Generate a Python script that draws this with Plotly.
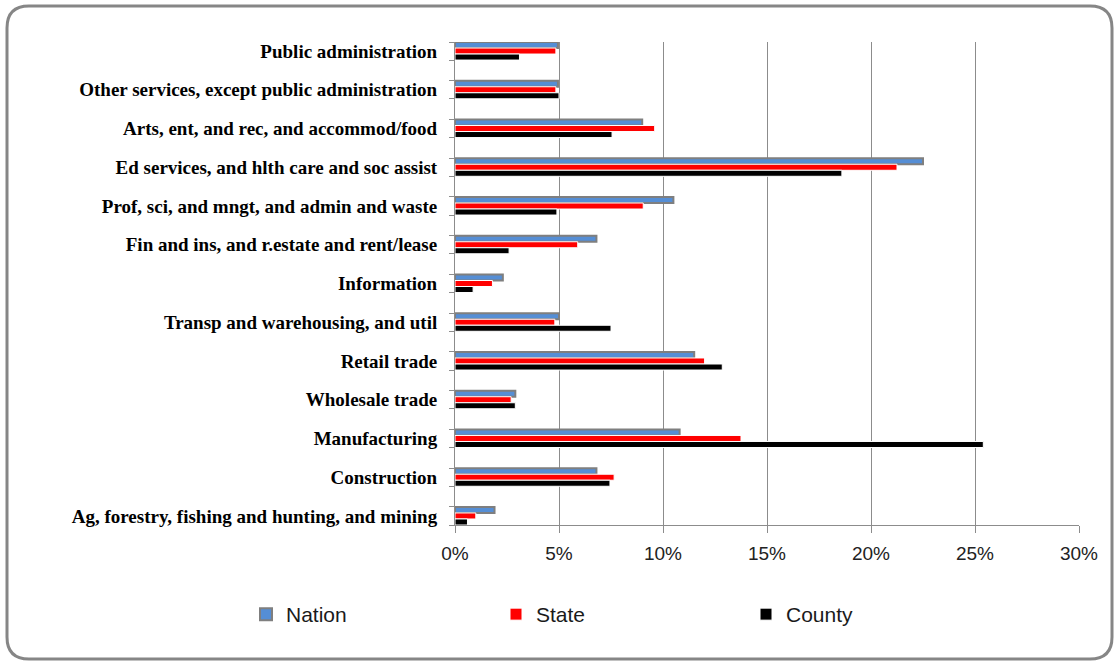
import plotly.graph_objects as go

categories = [
    "Public administration",
    "Other services, except public administration",
    "Arts, ent, and rec, and accommod/food",
    "Ed services, and hlth care and soc assist",
    "Prof, sci, and mngt, and admin and waste",
    "Fin and ins, and r.estate and rent/lease",
    "Information",
    "Transp and warehousing, and util",
    "Retail trade",
    "Wholesale trade",
    "Manufacturing",
    "Construction",
    "Ag, forestry, fishing and hunting, and mining",
]
nation = [0.0495, 0.0495, 0.090, 0.225, 0.105, 0.068, 0.023, 0.050, 0.115, 0.029, 0.108, 0.068, 0.019]
state = [0.0485, 0.0485, 0.096, 0.2125, 0.0905, 0.059, 0.018, 0.048, 0.120, 0.027, 0.1375, 0.0765, 0.010]
county = [0.031, 0.050, 0.0755, 0.186, 0.049, 0.026, 0.0087, 0.075, 0.1285, 0.029, 0.254, 0.0745, 0.006]
series_names = ["Nation", "State", "County"]
x_ticks = [0, 0.05, 0.10, 0.15, 0.20, 0.25, 0.30]

W, H = 1118, 665
L, R, T, B = 455, 1079, 42, 525
half = 0.233  # half of bar group height in category units

fig = go.Figure()
styles = [
    dict(color="#558ED5", line=dict(color="#7f7f7f", width=2)),
    dict(color="#FF0000", line=dict(color="#ffffff", width=1)),
    dict(color="#000000", line=dict(color="#ffffff", width=1)),
]
for name, vals, st in zip(series_names, [nation, state, county], styles):
    fig.add_trace(go.Bar(y=categories, x=vals, orientation="h", name=name, marker=st))

# invisible helper trace for the tick overlay axis
fig.add_trace(go.Scatter(x=[0], y=[0], yaxis="y2", mode="markers",
                         marker=dict(opacity=0), showlegend=False, hoverinfo="skip"))

tickpos = []
for i in range(len(categories)):
    tickpos += [i - half, i + half]

def px2x(px):
    return (px - L) / (R - L)

def py2y(py):
    return (B - py) / (B - T)

x0, x1 = px2x(7), px2x(1112)
y0, y1 = py2y(659), py2y(6)
rx, ry = 22 / (R - L), 22 / (B - T)
path = (f"M{x0+rx},{y1} L{x1-rx},{y1} Q{x1},{y1} {x1},{y1-ry} L{x1},{y0+ry} "
        f"Q{x1},{y0} {x1-rx},{y0} L{x0+rx},{y0} Q{x0},{y0} {x0},{y0+ry} "
        f"L{x0},{y1-ry} Q{x0},{y1} {x0+rx},{y1} Z")

fig.update_layout(
    width=W, height=H,
    margin=dict(l=L, r=W - R, t=T, b=H - B, autoexpand=False),
    paper_bgcolor="white", plot_bgcolor="white",
    barmode="group", bargap=0.534, bargroupgap=0,
    showlegend=True,
    legend=dict(orientation="h", x=px2x(246), xanchor="left", y=py2y(594), yanchor="top",
                entrywidth=205, entrywidthmode="pixels",
                font=dict(family="Liberation Sans", size=21, color="#1a1a1a"),
                bgcolor="rgba(0,0,0,0)", traceorder="normal"),
    xaxis=dict(range=[0, 0.30], tickvals=x_ticks, tickformat=".0%",
               showgrid=True, gridcolor="#8c8c8c", gridwidth=1,
               showline=True, linecolor="#8c8c8c", linewidth=1,
               ticks="outside", ticklen=7, tickcolor="#8c8c8c",
               ticklabelstandoff=4, zeroline=False,
               tickfont=dict(family="Liberation Sans", size=19, color="#222222")),
    yaxis=dict(range=[len(categories) - 1 + half, -half], type="category",
               showline=True, linecolor="#8c8c8c", linewidth=1, ticks="",
               ticklabelstandoff=13, showgrid=False,
               tickfont=dict(family="Liberation Serif", size=19, color="#000000", weight="bold")),
    yaxis2=dict(range=[len(categories) - 1 + half, -half], overlaying="y", side="left",
                tickvals=tickpos, showticklabels=False, ticks="outside", ticklen=5,
                tickcolor="#8c8c8c", showgrid=False, showline=False, zeroline=False),
    shapes=[dict(type="path", path=path, xref="paper", yref="paper",
                 line=dict(color="#868686", width=3), fillcolor="rgba(0,0,0,0)", layer="above")],
)

fig.write_html("out.html")
